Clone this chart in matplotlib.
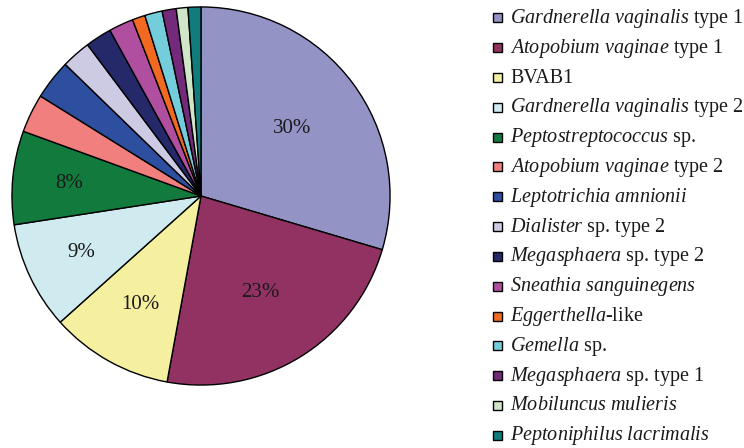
import matplotlib
matplotlib.use("Agg")
import numpy as np
import matplotlib.pyplot as plt
from matplotlib.patches import Rectangle

plt.rcParams["font.family"] = ["Liberation Serif", "DejaVu Serif"]
plt.rcParams["mathtext.fontset"] = "custom"
plt.rcParams["mathtext.rm"] = "Liberation Serif"
plt.rcParams["mathtext.it"] = "Liberation Serif:italic"

# species (italic part, plain part) and share of clones (%)
species = [
    ("Gardnerella vaginalis", "type 1"),
    ("Atopobium vaginae", "type 1"),
    ("", "BVAB1"),
    ("Gardnerella vaginalis", "type 2"),
    ("Peptostreptococcus", "sp."),
    ("Atopobium vaginae", "type 2"),
    ("Leptotrichia amnionii", ""),
    ("Dialister", "sp. type 2"),
    ("Megasphaera", "sp. type 2"),
    ("Sneathia sanguinegens", ""),
    ("Eggerthella", "-like"),
    ("Gemella", "sp."),
    ("Megasphaera", "sp. type 1"),
    ("Mobiluncus mulieris", ""),
    ("Peptoniphilus lacrimalis", ""),
]
shares = [29.6, 23.3, 10.5, 9.2, 8.0, 3.3, 3.4, 2.5, 2.25, 2.1, 1.1, 1.5, 1.2, 1.0, 1.1]
colors = ["#9493C6", "#923263", "#F4F09F", "#CFEBF0", "#137A3D",
          "#F07F7E", "#2E4F9F", "#CDCAE4", "#252869", "#B04F9F",
          "#F26A22", "#73CDDB", "#742A7A", "#CFE6C9", "#117C7B"]
# how far out (fraction of radius) each percent label sits
label_r = [0.6, 0.6, 0.66, 0.7, 0.7]


def make_label(it, rm):
    parts = []
    if it:
        parts.append("$\\mathit{" + it.replace(" ", "\\ ") + "}$")
    if rm:
        if rm.startswith("-"):
            parts.append(rm)
        else:
            parts.append(" " + rm if it else rm)
    return "".join(parts)


labels = [make_label(it, rm) for it, rm in species]

W, H = 744, 448
fig = plt.figure(figsize=(W / 100, H / 100), dpi=100)
cx, cy, r = 201, 196, 190
ax = fig.add_axes([(cx - r) / W, (H - cy - r) / H, 2 * r / W, 2 * r / H])

wedges, texts, autotexts = ax.pie(
    shares, colors=colors, startangle=90, counterclock=False,
    autopct=lambda p: f"{p:.0f}%" if p >= 5 else "",
    wedgeprops=dict(edgecolor="black", linewidth=1.0),
    textprops=dict(fontsize=15, color="#1a1a1a"),
)
for w, t, lr in zip(wedges, autotexts, label_r):
    mid = np.deg2rad((w.theta1 + w.theta2) / 2)
    t.set_position((lr * np.cos(mid), lr * np.sin(mid)))

ax.set_xlim(-1.005, 1.005)
ax.set_ylim(-1.005, 1.005)
ax.set_aspect("equal")
ax.axis("off")

# legend drawn by hand so that rows are evenly spaced
row0, step, box = 18, 29.8, 9
for i, (lab, col) in enumerate(zip(labels, colors)):
    yc = row0 + i * step
    fig.patches.append(Rectangle(((497 - box / 2) / W, 1 - (yc + box / 2) / H),
                                 box / W, box / H, transform=fig.transFigure,
                                 facecolor=col, edgecolor="black", linewidth=1.0))
    fig.text(510 / W, 1 - (yc + 5) / H, lab, fontsize=14.5, color="#1a1a1a",
             ha="left", va="baseline")

fig.savefig("out.png", dpi=100)
